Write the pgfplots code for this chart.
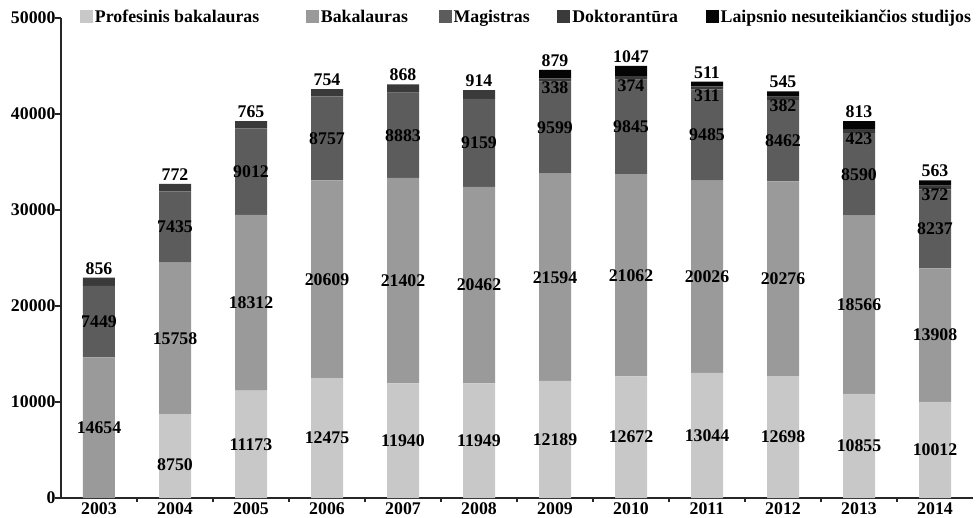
\documentclass[border=0pt]{standalone}
\usepackage{pgfplots}
\pgfplotsset{compat=1.18}
\usepackage{pgfplotstable}
\usepackage{fontspec}
\setmainfont{Liberation Serif}
\definecolor{cP}{HTML}{C8C8C8}
\definecolor{cB}{HTML}{9A9A9A}
\definecolor{cM}{HTML}{5C5C5C}
\definecolor{cD}{HTML}{3A3A3A}
\definecolor{cL}{HTML}{050505}

\pgfplotstableread{
x P B M D L
0 0 14654 7449 856 0
1 8750 15758 7435 772 0
2 11173 18312 9012 765 0
3 12475 20609 8757 754 0
4 11940 21402 8883 868 0
5 11949 20462 9159 914 0
6 12189 21594 9599 338 879
7 12672 21062 9845 374 1047
8 13044 20026 9485 311 511
9 12698 20276 8462 382 545
10 10855 18566 8590 423 813
11 10012 13908 8237 372 563
}\data

\newcommand{\lfont}{\fontsize{17.8bp}{20bp}\selectfont\bfseries}

\begin{document}
\begin{tikzpicture}[font=\lfont]
\useasboundingbox (-61bp,-20bp) rectangle (919bp,498bp);
\begin{axis}[
  scale only axis, width=912bp, height=480bp,
  xmin=-0.5, xmax=11.5, ymin=0, ymax=50000,
  ybar stacked, bar width=32bp,
  axis x line*=bottom, axis y line*=left,
  axis line style={line width=1.3bp, black!85},
  xtick={0,...,11},
  xticklabels={2003,2004,2005,2006,2007,2008,2009,2010,2011,2012,2013,2014},
  major x tick style={draw=none},
  minor xtick={0.5,1.5,...,10.5},
  minor x tick style={line width=1.3bp, black!85},
  minor tick length=4bp,
  ytick={0,10000,20000,30000,40000,50000},
  major tick length=6bp,
  tick align=outside,
  y tick style={line width=1.3bp, black!85},
  scaled y ticks=false,
  /pgf/number format/set thousands separator={},
  /pgf/number format/assume math mode=true,
  ticklabel style={font=\lfont},
  xticklabel style={yshift=5bp},
  yticklabel style={xshift=4bp},
  legend columns=5,
  legend style={at={(axis description cs:0.0208,1.0021)}, anchor=west,
    draw=none, fill=none, inner sep=0pt, font=\lfont,
    nodes={inner sep=1.8bp}},
  legend image code/.code={\fill[#1] (0bp,-6.5bp) rectangle (13bp,6.5bp);},
]
\addplot[fill=cP, draw=none] table[x=x,y=P]{\data};
\addlegendentry{Profesinis bakalauras\rule{45bp}{0pt}}
\addplot[fill=cB, draw=none] table[x=x,y=B]{\data};
\addlegendentry{Bakalauras\rule{29bp}{0pt}}
\addplot[fill=cM, draw=none] table[x=x,y=M]{\data};
\addlegendentry{Magistras\rule{26bp}{0pt}}
\addplot[fill=cD, draw=none] table[x=x,y=D]{\data};
\addlegendentry{Doktorantūra\rule{26bp}{0pt}}
\addplot[fill=cL, draw=none] table[x=x,y=L]{\data};
\addlegendentry{Laipsnio nesuteikiančios studijos}
\end{axis}

\begin{axis}[
  scale only axis, width=912bp, height=480bp,
  xmin=-0.5, xmax=11.5, ymin=0, ymax=50000,
  hide axis,
  point meta=explicit symbolic,
  nodes near coords,
]
% centred labels
\addplot[draw=none, mark=none, nodes near coords,
  every node near coord/.append style={anchor=center, inner sep=0pt, font=\lfont, text=black}]
coordinates {
(1,3450)[8750] (2,5586)[11173] (3,6237)[12475] (4,5970)[11940] (5,5974)[11949]
(6,6094)[12189] (7,6336)[12672] (8,6522)[13044] (9,6349)[12698] (10,5427)[10855] (11,5006)[10012]
(0,7327)[14654] (1,16629)[15758] (2,20329)[18312] (3,22780)[20609] (4,22641)[21402] (5,22180)[20462]
(6,22986)[21594] (7,23203)[21062] (8,23057)[20026] (9,22836)[20276] (10,20138)[18566] (11,16966)[13908]
(0,18378)[7449] (1,28225)[7435] (2,33991)[9012] (3,37462)[8757] (4,37783)[8883] (5,36990)[9159]
(6,38582)[9599] (7,38656)[9845] (8,37812)[9485] (9,37205)[8462] (10,33716)[8590] (11,28038)[8237]
};
% labels above bars
\addplot[draw=none, mark=none, nodes near coords,
  every node near coord/.append style={anchor=south, inner sep=0pt, yshift=3bp, font=\lfont, text=black}]
coordinates {
(0,22959)[856] (1,32715)[772] (2,39262)[765] (3,42595)[754] (4,43093)[868] (5,42484)[914]
(6,44599)[879] (7,45000)[1047] (8,43377)[511] (9,42363)[545] (10,39247)[813] (11,33092)[563]
};
% labels just below the black segment
\addplot[draw=none, mark=none, nodes near coords,
  every node near coord/.append style={anchor=north, inner sep=0pt, yshift=-3bp, font=\lfont, text=black}]
coordinates {
(6,43720)[338] (7,43953)[374] (8,42866)[311] (9,41818)[382] (10,38434)[423] (11,32529)[372]
};
\end{axis}
\end{tikzpicture}
\end{document}
